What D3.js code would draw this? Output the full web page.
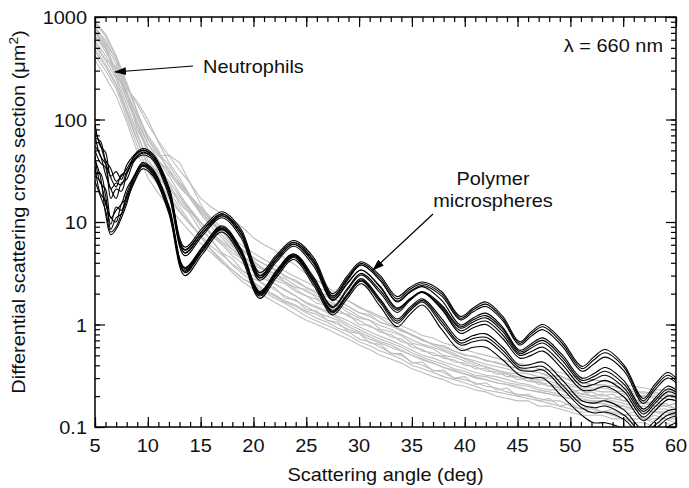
<!DOCTYPE html>
<html>
<head>
<meta charset="utf-8">
<script src="https://cdn.jsdelivr.net/npm/d3@7"></script>
<style>
  body { margin: 0; background: #fff; }
  svg { display: block; }
  text { font-family: "Liberation Sans", Arial, sans-serif; font-size: 17.5px; fill: #111; }
</style>
</head>
<body>
<svg id="chart" width="689" height="488"></svg>
<script>
// Neutrophil curves (grey), sampled every degree from 5 to 60
const grayAngles = [5, 6, 7, 8, 9, 10, 11, 12, 13, 14, 15, 16, 17, 18, 19, 20, 21, 22, 23, 24, 25, 26, 27, 28,
  29, 30, 31, 32, 33, 34, 35, 36, 37, 38, 39, 40, 41, 42, 43, 44, 45, 46, 47, 48, 49, 50, 51, 52, 53, 54, 55, 56,
  57, 58, 59, 60];

const neutrophil1 = [900, 680, 420, 230, 120, 66, 47, 36, 25, 18, 13.5, 10.5, 8.2, 6.3, 5.4, 4.4, 3.9, 3.5, 2.9,
  2.7, 2.3, 2.0, 1.95, 1.7, 1.5, 1.3, 1.25, 1.05, 0.98, 0.86, 0.8, 0.7, 0.64, 0.62, 0.55, 0.5, 0.49, 0.44, 0.43,
  0.39, 0.38, 0.35, 0.34, 0.31, 0.32, 0.28, 0.27, 0.26, 0.25, 0.25, 0.23, 0.23, 0.21, 0.22, 0.2, 0.21];
const neutrophil2 = [820, 560, 390, 190, 105, 58, 40, 28, 19, 13, 9.2, 6.6, 5.0, 3.8, 3.1, 2.6, 2.2, 1.9, 1.65,
  1.5, 1.3, 1.15, 1.05, 0.92, 0.85, 0.72, 0.68, 0.6, 0.53, 0.5, 0.43, 0.4, 0.36, 0.34, 0.3, 0.29, 0.27, 0.25, 0.24,
  0.22, 0.21, 0.2, 0.19, 0.18, 0.18, 0.16, 0.15, 0.15, 0.14, 0.14, 0.13, 0.13, 0.12, 0.12, 0.12, 0.11];
const neutrophil3 = [640, 490, 290, 170, 90, 52, 40, 31, 24, 18, 14, 11, 8.8, 7.0, 5.8, 5.0, 4.3, 3.8, 3.3, 2.9,
  2.6, 2.3, 2.1, 1.85, 1.7, 1.45, 1.35, 1.2, 1.1, 0.97, 0.88, 0.78, 0.74, 0.66, 0.62, 0.57, 0.53, 0.5, 0.47, 0.44,
  0.42, 0.4, 0.37, 0.36, 0.34, 0.32, 0.3, 0.29, 0.28, 0.27, 0.26, 0.25, 0.24, 0.23, 0.23, 0.22];
const neutrophil4 = [520, 380, 250, 125, 70, 40, 30, 22, 17, 13, 10, 7.6, 6.3, 5.0, 4.3, 3.5, 3.2, 2.7, 2.5, 2.1,
  1.9, 1.6, 1.55, 1.3, 1.25, 1.0, 0.98, 0.84, 0.8, 0.68, 0.64, 0.55, 0.53, 0.47, 0.45, 0.4, 0.39, 0.35, 0.35, 0.31,
  0.31, 0.28, 0.28, 0.25, 0.26, 0.22, 0.23, 0.2, 0.21, 0.19, 0.2, 0.17, 0.18, 0.16, 0.17, 0.15];
const neutrophil5 = [420, 300, 200, 105, 55, 31, 23, 17, 12.5, 9.5, 7.5, 5.8, 4.8, 3.9, 3.3, 2.8, 2.5, 2.2, 1.9,
  1.7, 1.5, 1.3, 1.2, 1.1, 0.95, 0.85, 0.76, 0.68, 0.63, 0.56, 0.5, 0.45, 0.42, 0.38, 0.35, 0.33, 0.3, 0.29, 0.27,
  0.26, 0.24, 0.23, 0.22, 0.21, 0.2, 0.19, 0.18, 0.17, 0.17, 0.16, 0.15, 0.15, 0.14, 0.14, 0.13, 0.13];
const neutrophil6 = [740, 540, 350, 180, 95, 58, 44, 45, 38, 24, 15, 10, 7.5, 5.8, 4.6, 3.8, 3.4, 2.9, 2.6, 2.2,
  1.9, 1.75, 1.5, 1.4, 1.2, 1.1, 0.95, 0.88, 0.76, 0.72, 0.6, 0.57, 0.5, 0.49, 0.43, 0.42, 0.37, 0.37, 0.33, 0.33,
  0.29, 0.3, 0.26, 0.27, 0.24, 0.24, 0.21, 0.22, 0.2, 0.21, 0.18, 0.19, 0.17, 0.18, 0.16, 0.17];
const neutrophil7 = [590, 420, 270, 140, 74, 40, 28, 20, 14, 10, 7.2, 5.3, 4.1, 3.2, 2.6, 2.2, 1.9, 1.65, 1.45,
  1.25, 1.1, 1.0, 0.9, 0.8, 0.72, 0.63, 0.57, 0.5, 0.46, 0.42, 0.37, 0.34, 0.31, 0.29, 0.26, 0.25, 0.23, 0.22, 0.2,
  0.19, 0.18, 0.18, 0.16, 0.16, 0.15, 0.14, 0.13, 0.13, 0.13, 0.12, 0.12, 0.11, 0.11, 0.1, 0.1, 0.1];
const neutrophil8 = [700, 500, 260, 200, 150, 100, 60, 38, 27, 18, 13, 10, 8.0, 6.4, 5.3, 4.5, 3.9, 3.4, 3.0,
  2.6, 2.3, 2.1, 1.85, 1.7, 1.5, 1.3, 1.2, 1.05, 0.97, 0.88, 0.78, 0.7, 0.65, 0.6, 0.55, 0.51, 0.48, 0.45, 0.42,
  0.4, 0.37, 0.36, 0.34, 0.32, 0.31, 0.29, 0.27, 0.26, 0.26, 0.25, 0.24, 0.22, 0.22, 0.21, 0.21, 0.2];
const neutrophil9 = [460, 330, 215, 115, 62, 36, 27, 21, 16, 12.5, 9.8, 7.8, 6.5, 5.4, 4.6, 4.0, 3.5, 3.1, 2.8,
  2.4, 2.1, 1.9, 1.7, 1.55, 1.4, 1.2, 1.1, 0.98, 0.9, 0.8, 0.71, 0.64, 0.6, 0.55, 0.5, 0.47, 0.44, 0.41, 0.39,
  0.37, 0.34, 0.33, 0.31, 0.3, 0.29, 0.26, 0.25, 0.24, 0.24, 0.23, 0.22, 0.21, 0.2, 0.2, 0.19, 0.18];
const neutrophil10 = [880, 650, 410, 215, 115, 64, 45, 33, 23, 17, 12, 9, 7, 5.4, 4.3, 3.5, 3.0, 2.5, 2.2, 1.9,
  1.6, 1.45, 1.3, 1.15, 1.0, 0.9, 0.8, 0.72, 0.66, 0.6, 0.53, 0.48, 0.44, 0.41, 0.37, 0.35, 0.32, 0.31, 0.29, 0.27,
  0.26, 0.25, 0.23, 0.22, 0.21, 0.2, 0.19, 0.18, 0.18, 0.17, 0.16, 0.15, 0.15, 0.14, 0.14, 0.14];
const neutrophil11 = [480, 350, 225, 120, 63, 35, 25, 18, 13, 9.6, 7.2, 5.4, 4.3, 3.4, 2.8, 2.4, 2.1, 1.8, 1.6,
  1.4, 1.2, 1.08, 0.98, 0.88, 0.78, 0.68, 0.62, 0.55, 0.51, 0.46, 0.4, 0.37, 0.34, 0.31, 0.29, 0.27, 0.25, 0.23,
  0.22, 0.21, 0.2, 0.19, 0.18, 0.17, 0.16, 0.15, 0.14, 0.14, 0.14, 0.13, 0.12, 0.12, 0.12, 0.11, 0.11, 0.1];
const neutrophil12 = [660, 460, 310, 155, 88, 47, 34, 25, 18, 13.5, 10, 7.4, 6.0, 4.7, 3.9, 3.3, 2.8, 2.5, 2.15,
  1.9, 1.65, 1.5, 1.35, 1.2, 1.08, 0.95, 0.85, 0.77, 0.7, 0.63, 0.56, 0.5, 0.47, 0.43, 0.4, 0.37, 0.34, 0.32, 0.31,
  0.29, 0.27, 0.26, 0.24, 0.23, 0.23, 0.21, 0.2, 0.19, 0.19, 0.18, 0.17, 0.16, 0.16, 0.15, 0.15, 0.14];
const neutrophil13 = [760, 600, 380, 210, 140, 90, 62, 44, 32, 24, 17, 14, 12, 10.5, 8.8, 7.0, 6.0, 5.3, 4.4, 3.8,
  3.1, 2.7, 2.3, 2.0, 1.7, 1.5, 1.3, 1.15, 1.0, 0.9, 0.8, 0.72, 0.63, 0.57, 0.52, 0.46, 0.42, 0.38, 0.36, 0.33,
  0.31, 0.28, 0.27, 0.25, 0.24, 0.22, 0.21, 0.2, 0.19, 0.19, 0.18, 0.17, 0.17, 0.16, 0.16, 0.15];
const neutrophil14 = [560, 380, 330, 180, 80, 52, 30, 24, 15, 12, 8.2, 6.8, 5.0, 4.4, 3.3, 3.0, 2.4, 2.3, 1.8,
  1.75, 1.4, 1.35, 1.1, 1.05, 0.85, 0.82, 0.66, 0.64, 0.52, 0.52, 0.42, 0.43, 0.35, 0.36, 0.3, 0.31, 0.26, 0.27,
  0.23, 0.24, 0.2, 0.21, 0.18, 0.19, 0.16, 0.17, 0.15, 0.16, 0.14, 0.15, 0.13, 0.14, 0.12, 0.13, 0.12, 0.12];
const neutrophil15 = [720, 520, 300, 175, 110, 70, 50, 30, 22, 17, 12.5, 9.5, 8.4, 6.0, 5.2, 4.2, 3.4, 3.2, 2.6,
  2.3, 2.2, 1.8, 1.6, 1.55, 1.3, 1.15, 1.1, 0.9, 0.85, 0.78, 0.66, 0.62, 0.58, 0.5, 0.48, 0.44, 0.4, 0.39, 0.36,
  0.34, 0.33, 0.3, 0.29, 0.28, 0.26, 0.25, 0.24, 0.23, 0.22, 0.22, 0.21, 0.2, 0.2, 0.19, 0.19, 0.18];
const neutrophil16 = [380, 260, 170, 95, 48, 27, 19, 14, 10.5, 8.0, 6.2, 5.0, 4.0, 3.4, 2.8, 2.5, 2.2, 1.95, 1.7,
  1.55, 1.35, 1.25, 1.1, 1.0, 0.9, 0.82, 0.72, 0.66, 0.6, 0.55, 0.5, 0.46, 0.42, 0.38, 0.36, 0.33, 0.31, 0.29, 0.27,
  0.26, 0.25, 0.23, 0.22, 0.21, 0.2, 0.19, 0.18, 0.18, 0.17, 0.16, 0.16, 0.15, 0.15, 0.14, 0.14, 0.13];

const neutrophils = [neutrophil1, neutrophil2, neutrophil3, neutrophil4, neutrophil5, neutrophil6,
  neutrophil7, neutrophil8, neutrophil9, neutrophil10, neutrophil11, neutrophil12, neutrophil13,
  neutrophil14, neutrophil15, neutrophil16];

// Polymer microsphere curves (black), sampled at the extrema and between them
const blackAngles = [5, 5.5, 6, 6.5, 7, 7.5, 8, 8.7, 9.5, 10.5, 12, 13.5, 15.2, 17, 18.8, 20.6, 22.2, 23.8, 25.7,
  27.5, 28.9, 30.2, 32, 33.6, 34.8, 36, 37.8, 39.6, 40.8, 42, 43.6, 45.2, 46.3, 47.4, 49.2, 51.1, 52.2, 53.3, 55.1,
  56.9, 58, 59.2, 60];

const sphere1 = [90, 55, 48, 28, 31, 26, 36, 45, 52, 46, 22, 5.7, 8.8, 12.6, 8.6, 3.2, 4.8, 6.6, 4.5, 2.0, 3.0,
  4.1, 3.0, 1.87, 2.3, 2.6, 2.1, 1.2, 1.45, 1.66, 1.2, 0.68, 0.85, 1.0, 0.7, 0.39, 0.48, 0.57, 0.4, 0.19, 0.26,
  0.34, 0.3];
const sphere2 = [75, 57, 38, 27, 22, 29, 30, 44, 50, 44, 21, 5.3, 8.3, 12.0, 8.1, 3.0, 4.6, 6.3, 4.2, 1.89, 2.8,
  3.8, 2.7, 1.66, 2.05, 2.34, 1.73, 0.99, 1.16, 1.29, 0.94, 0.56, 0.65, 0.74, 0.51, 0.3, 0.33, 0.38, 0.28, 0.15,
  0.19, 0.25, 0.23];
const sphere3 = [70, 44, 37, 21, 24, 23, 31, 40, 48, 42, 19.5, 5.0, 7.8, 11.5, 7.6, 2.85, 4.3, 6.1, 4.0, 1.82,
  2.7, 3.8, 2.7, 1.69, 2.1, 2.4, 1.9, 1.11, 1.33, 1.5, 1.09, 0.63, 0.77, 0.89, 0.62, 0.35, 0.41, 0.48, 0.35, 0.17,
  0.23, 0.3, 0.27];
const sphere4 = [55, 45, 29, 21, 17, 24, 26, 39, 45, 40, 18, 4.7, 7.4, 11.0, 7.1, 2.7, 4.1, 5.8, 3.7, 1.71, 2.5,
  3.4, 2.3, 1.43, 1.78, 2.07, 1.41, 0.82, 0.93, 1.0, 0.73, 0.47, 0.5, 0.55, 0.37, 0.23, 0.23, 0.25, 0.195, 0.115,
  0.144, 0.185, 0.18];
const sphere5 = [45, 24, 21, 11, 13, 15, 21, 28, 38, 32.5, 14.4, 3.6, 5.8, 9.2, 5.5, 2.1, 3.4, 4.9, 2.9, 1.46,
  2.17, 3.05, 2.03, 1.31, 1.71, 2.06, 1.49, 0.92, 1.06, 1.16, 0.85, 0.52, 0.59, 0.66, 0.45, 0.27, 0.29, 0.32,
  0.24, 0.134, 0.17, 0.22, 0.21];
const sphere6 = [28, 25, 15, 11, 10, 15, 17, 28, 36, 31, 13.5, 3.4, 5.5, 8.7, 5.2, 2.0, 3.2, 4.7, 2.7, 1.37, 2.0,
  2.8, 1.77, 1.13, 1.47, 1.78, 1.15, 0.7, 0.78, 0.81, 0.6, 0.4, 0.41, 0.43, 0.29, 0.18, 0.171, 0.18, 0.146, 0.094,
  0.114, 0.144, 0.149];
const sphere7 = [35, 19, 16, 8.5, 11, 12, 18, 25, 35, 29, 12.7, 3.2, 5.2, 8.4, 4.9, 1.9, 3.05, 4.5, 2.55, 1.3,
  1.9, 2.65, 1.63, 1.03, 1.35, 1.66, 1.01, 0.63, 0.68, 0.7, 0.52, 0.36, 0.35, 0.36, 0.24, 0.153, 0.137, 0.14,
  0.118, 0.081, 0.095, 0.12, 0.128];
const sphere8 = [25, 18, 13, 8, 9, 12, 16, 24, 33, 28, 12, 3.0, 4.9, 8.0, 4.6, 1.8, 2.9, 4.3, 2.4, 1.24, 1.8,
  2.5, 1.5, 0.95, 1.25, 1.55, 0.9, 0.56, 0.6, 0.6, 0.45, 0.32, 0.3, 0.3, 0.2, 0.13, 0.11, 0.11, 0.095, 0.07, 0.08,
  0.1, 0.11];
const sphere9 = [66, 62, 40, 33, 25, 28, 33, 43, 50, 44, 21, 5.4, 8.3, 12.0, 8.1, 3.0, 4.55, 6.35, 4.25, 1.9,
  2.85, 3.95, 2.85, 1.78, 2.2, 2.5, 2.0, 1.15, 1.39, 1.58, 1.14, 0.655, 0.81, 0.95, 0.66, 0.37, 0.45, 0.53, 0.38,
  0.18, 0.245, 0.32, 0.285];
const sphere10 = [50, 38, 34, 17, 21, 20, 29, 41, 47, 42, 19.5, 5.0, 7.8, 11.5, 7.6, 2.85, 4.35, 6.05, 3.95, 1.75,
  2.55, 3.4, 2.35, 1.45, 1.76, 2.06, 1.44, 0.87, 1.0, 1.08, 0.79, 0.5, 0.545, 0.6, 0.41, 0.25, 0.26, 0.285, 0.22,
  0.125, 0.157, 0.2, 0.195];
const sphere11 = [40, 28, 12, 7.5, 8.5, 11, 15, 26.5, 35.5, 30, 13.1, 3.3, 5.35, 8.55, 5.05, 1.95, 3.1, 4.6, 2.6,
  1.33, 1.95, 2.72, 1.7, 1.08, 1.41, 1.72, 1.08, 0.66, 0.73, 0.75, 0.56, 0.38, 0.38, 0.39, 0.26, 0.165, 0.154,
  0.16, 0.13, 0.087, 0.104, 0.13, 0.138];
const sphere12 = [30, 30, 18, 9.5, 14, 13, 19, 28, 37, 31.7, 13.9, 3.5, 5.65, 8.95, 5.35, 2.05, 3.3, 4.8, 2.8, 1.5,
  2.25, 3.15, 2.15, 1.38, 1.75, 2.1, 1.55, 0.95, 1.11, 1.22, 0.9, 0.54, 0.62, 0.7, 0.48, 0.285, 0.31, 0.35, 0.26,
  0.142, 0.18, 0.235, 0.22];

const spheres = [sphere1, sphere2, sphere3, sphere4, sphere5, sphere6, sphere7, sphere8,
  sphere9, sphere10, sphere11, sphere12];

const xTicks = [5, 10, 15, 20, 25, 30, 35, 40, 45, 50, 55, 60];
const yTicks = [0.1, 1, 10, 100, 1000];
const yTickLabels = ["0.1", "1", "10", "100", "1000"];

const width = 689;
const height = 488;
const margin = { top: 17, right: 13, bottom: 61, left: 95 };
const stretch = 1.14; // the figure's lettering runs wide

const $svg = d3.select("svg#chart");
const x = d3.scaleLinear().domain([5, 60]).range([margin.left, width - margin.right]);
const y = d3.scaleLog().domain([0.1, 1000]).range([height - margin.bottom, margin.top]);

const $defs = $svg.append("defs");
$defs.append("clipPath").attr("id", "plot-clip")
  .append("rect")
  .attr("x", x(5)).attr("y", y(1000))
  .attr("width", x(60) - x(5)).attr("height", y(0.1) - y(1000));

$defs.append("marker")
  .attr("id", "arrowhead")
  .attr("markerUnits", "userSpaceOnUse")
  .attr("markerWidth", 12).attr("markerHeight", 8)
  .attr("refX", 11).attr("refY", 4)
  .attr("orient", "auto")
  .append("polygon")
  .attr("fill", "#000")
  .attr("points", "0 0, 12 4, 0 8");

function addText($g, px, py, str, anchor, rotate) {
  return $g.append("text")
    .attr("transform", `translate(${px},${py})${rotate ? ` rotate(${rotate})` : ""} scale(${stretch},1)`)
    .attr("text-anchor", anchor || "start")
    .text(str);
}

// curves
const $plot = $svg.append("g").attr("clip-path", "url(#plot-clip)");

const grayLine = d3.line()
  .x((d, i) => x(grayAngles[i]))
  .y((d) => y(d));

$plot.append("g").selectAll("path")
  .data(neutrophils)
  .join("path")
  .attr("d", grayLine)
  .attr("fill", "none")
  .attr("stroke", "#bdbdbd")
  .attr("stroke-width", 1.1);

const blackLine = d3.line()
  .x((d, i) => x(blackAngles[i]))
  .y((d) => y(d))
  .curve(d3.curveCatmullRom.alpha(0.5));

$plot.append("g").selectAll("path")
  .data(spheres)
  .join("path")
  .attr("d", blackLine)
  .attr("fill", "none")
  .attr("stroke", "#000")
  .attr("stroke-width", 1.1);

// axes, ticks on all four sides pointing inward
const minorX = d3.range(5, 61);
const minorY = y.ticks();

function tickAxes(axisFn, scale, pos, values, size) {
  const ax = axisFn(scale).tickValues(values).tickSize(size).tickSizeOuter(0).tickFormat("");
  const $g = $svg.append("g").attr("transform", pos).call(ax);
  $g.select(".domain").remove();
  $g.selectAll("line").attr("stroke", "#000").attr("stroke-width", 1.2);
}

const atBottom = `translate(0,${y(0.1)})`;
const atTop = `translate(0,${y(1000)})`;
const atLeft = `translate(${x(5)},0)`;
const atRight = `translate(${x(60)},0)`;

tickAxes(d3.axisBottom, x, atBottom, minorX, -5);
tickAxes(d3.axisBottom, x, atBottom, xTicks, -10);
tickAxes(d3.axisTop, x, atTop, minorX, -5);
tickAxes(d3.axisTop, x, atTop, xTicks, -10);
tickAxes(d3.axisLeft, y, atLeft, minorY, -5);
tickAxes(d3.axisLeft, y, atLeft, yTicks, -10);
tickAxes(d3.axisRight, y, atRight, minorY, -5);
tickAxes(d3.axisRight, y, atRight, yTicks, -10);

$svg.append("rect")
  .attr("x", x(5)).attr("y", y(1000))
  .attr("width", x(60) - x(5)).attr("height", y(0.1) - y(1000))
  .attr("fill", "none")
  .attr("stroke", "#000")
  .attr("stroke-width", 1.5);

// tick labels
const $labels = $svg.append("g");
xTicks.forEach((t) => addText($labels, x(t), y(0.1) + 25, String(t), "middle"));
yTicks.forEach((t, i) => addText($labels, x(5) - 8, y(t) + 7, yTickLabels[i], "end"));

// axis titles
addText($labels, x(32.5), height - 7, "Scattering angle (deg)", "middle");
const $yTitle = addText($labels, 25, 212, "Differential scattering cross section (μm", "middle", -90);
$yTitle.append("tspan").attr("dy", -7).attr("font-size", "12px").text("2");
$yTitle.append("tspan").attr("dy", 7).text(")");

// annotations
addText($labels, x(60) - 13, y(1000) + 35, "λ = 660 nm", "end");
addText($labels, 203, 73, "Neutrophils", "start");
addText($labels, 493, 185, "Polymer", "middle");
addText($labels, 493, 207, "microspheres", "middle");

$svg.append("line")
  .attr("x1", 193).attr("y1", 66).attr("x2", 115).attr("y2", 72)
  .attr("stroke", "#000").attr("stroke-width", 1.2)
  .attr("marker-end", "url(#arrowhead)");

$svg.append("line")
  .attr("x1", 433).attr("y1", 214).attr("x2", 373).attr("y2", 270)
  .attr("stroke", "#000").attr("stroke-width", 1.2)
  .attr("marker-end", "url(#arrowhead)");
</script>
</body>
</html>
